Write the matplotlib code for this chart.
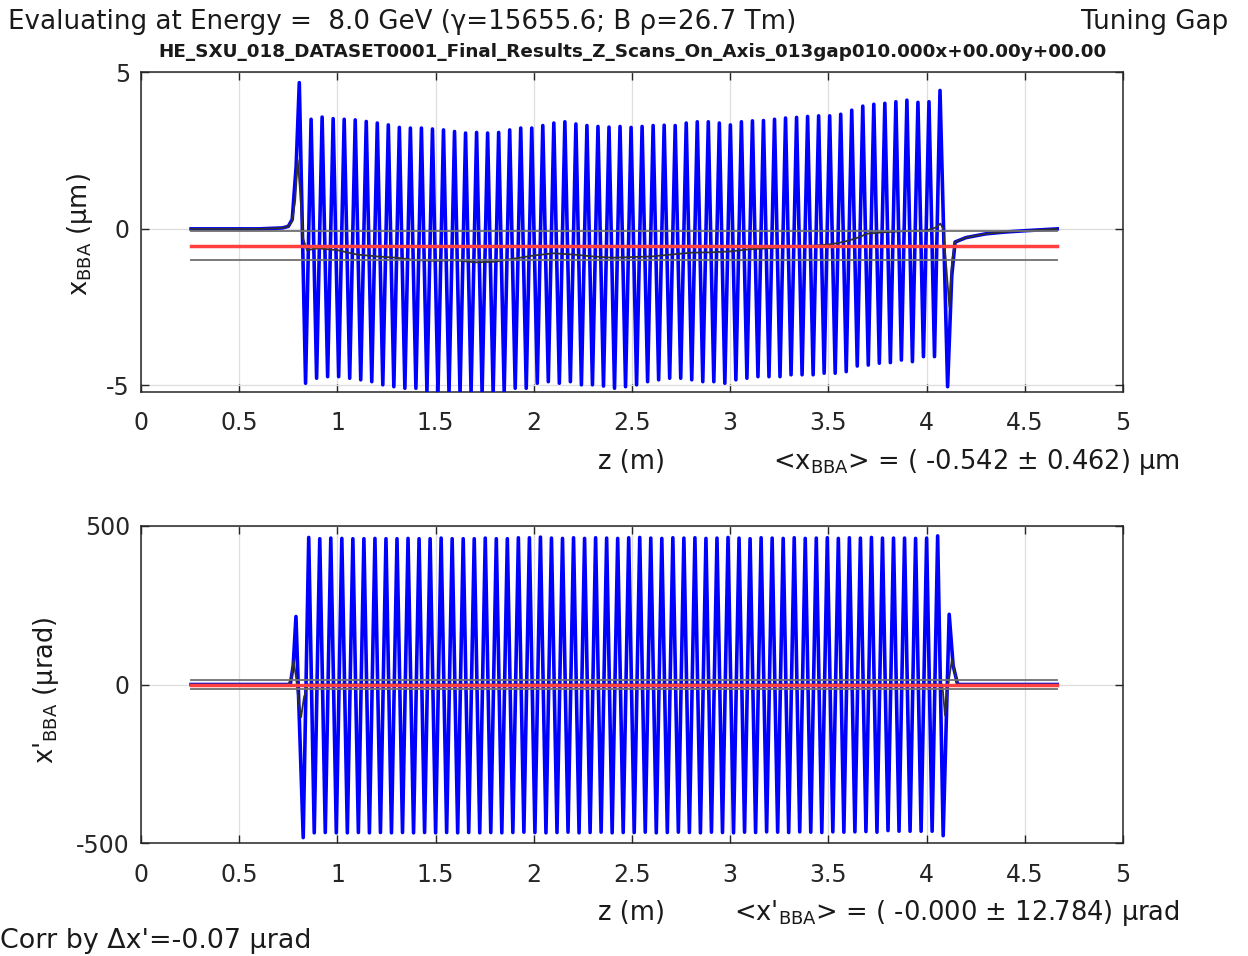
import matplotlib
matplotlib.use("Agg")
import matplotlib.pyplot as plt
import numpy as np

# ---- data ----
Z_RANGE = (0.255, 4.665)
PERIOD = 0.05618            # oscillation period seen along z (m)

# x_BBA (um): first regular crest and crest/trough values
X_PEAK0 = 0.866
x_peaks = [3.50, 3.57, 3.52, 3.50, 3.48, 3.43, 3.38, 3.32, 3.24, 3.22,
           3.22, 3.19, 3.16, 3.11, 3.06, 3.08, 3.06, 3.08, 3.16, 3.22,
           3.22, 3.30, 3.38, 3.42, 3.35, 3.30, 3.27, 3.25, 3.27, 3.24,
           3.27, 3.30, 3.31, 3.30, 3.38, 3.42, 3.42, 3.38, 3.32, 3.42,
           3.45, 3.46, 3.50, 3.54, 3.56, 3.59, 3.61, 3.61, 3.66, 3.79,
           3.92, 3.98, 4.01, 4.06, 4.11, 4.04, 4.06, 4.42]
x_troughs = [-4.93, -4.77, -4.72, -4.72, -4.77, -4.82, -4.88, -4.98, -5.04, -5.09,
             -5.09, -5.20, -5.25, -5.25, -5.25, -5.20, -5.25, -5.25, -5.20, -5.09,
             -5.09, -4.93, -4.88, -4.93, -4.88, -4.98, -4.98, -5.02, -5.09, -5.04,
             -4.98, -4.88, -4.82, -4.77, -4.77, -4.82, -4.88, -4.88, -4.93, -4.82,
             -4.77, -4.72, -4.72, -4.72, -4.66, -4.66, -4.66, -4.61, -4.61, -4.56,
             -4.38, -4.35, -4.29, -4.27, -4.19, -4.24, -4.08, -4.08]
x_lead_in_z = [0.255, 0.60, 0.72, 0.75, 0.77, 0.79, 0.806]
x_lead_in = [0.0, 0.0, 0.03, 0.08, 0.30, 2.0, 4.67]
x_lead_out_z = [4.107, 4.128, 4.145, 4.20, 4.30, 4.40, 4.50, 4.665]
x_lead_out = [-5.04, -1.5, -0.42, -0.28, -0.16, -0.10, -0.06, 0.0]

# averaged x trajectory (black)
xavg_z = [0.255, 0.60, 0.72, 0.75, 0.77, 0.785, 0.798, 0.81, 0.825, 0.845, 0.90,
          1.0, 1.1, 1.2, 1.3, 1.4, 1.5, 1.6, 1.7, 1.8, 1.9, 2.0, 2.1, 2.2, 2.3,
          2.4, 2.5, 2.6, 2.7, 2.8, 2.9, 3.0, 3.1, 3.2, 3.3, 3.4, 3.5, 3.55, 3.6,
          3.65, 3.7, 3.8, 3.9, 4.0, 4.05, 4.07, 4.085, 4.10, 4.116, 4.13, 4.145,
          4.2, 4.3, 4.4, 4.5, 4.665]
xavg = [0.0, 0.0, 0.03, 0.08, 0.25, 0.9, 2.2, 1.2, -0.3, -0.68, -0.62,
        -0.68, -0.82, -0.88, -0.92, -1.0, -1.02, -1.0, -1.07, -1.05, -0.95, -0.85, -0.78, -0.82, -0.88,
        -0.92, -0.90, -0.88, -0.82, -0.76, -0.75, -0.72, -0.65, -0.62, -0.57, -0.55, -0.50, -0.45, -0.38,
        -0.28, -0.15, -0.10, -0.07, -0.05, 0.05, 0.17, 0.0, -1.2, -2.5, -1.0, -0.42,
        -0.28, -0.16, -0.10, -0.06, 0.0]

# x'_BBA (urad)
XP_PEAK0 = 0.854
xp_peaks = [463, 459, 461, 460, 459, 459, 460, 459, 459, 460,
            459, 459, 461, 459, 459, 459, 461, 459, 459, 462,
            462, 464, 461, 460, 462, 460, 462, 461, 460, 462,
            463, 461, 460, 462, 461, 462, 460, 461, 463, 461,
            459, 462, 461, 460, 462, 460, 461, 462, 460, 462,
            461, 463, 461, 461, 461, 460, 461, 468]
xp_troughs = [-482, -467, -466, -467, -467, -466, -467, -466, -467, -466,
              -467, -466, -467, -466, -467, -466, -467, -466, -467, -466,
              -465, -466, -467, -466, -465, -467, -466, -465, -467, -466,
              -466, -465, -467, -466, -465, -466, -467, -465, -466, -467,
              -465, -466, -464, -465, -466, -464, -465, -466, -464, -465,
              -464, -463, -465, -460, -462, -462, -462, -462, -476]
xp_lead_in_z = [0.255, 0.76, 0.775, 0.789]
xp_lead_in = [0, 0, 60, 214]
xp_lead_out_z = [4.115, 4.135, 4.158, 4.665]
xp_lead_out = [221, 60, 0, 0]

xpavg_z = [0.255, 0.75, 0.765, 0.777, 0.79, 0.80, 0.815, 0.83, 0.85,
           4.08, 4.094, 4.11, 4.129, 4.158, 4.665]
xpavg = [0, 0, 20, 76, 20, -40, -103, -40, 0,
         0, -98, 0, 79, 0, 0]

X_MEAN, X_STD = -0.542, 0.462
XP_MEAN, XP_STD = -0.000, 12.784
CORR = -0.07


def crest_series(z_first, peaks, troughs):
    # troughs[k] sits half a period before peaks[k]
    z, v = [], []
    for k in range(max(len(peaks), len(troughs))):
        if k < len(troughs):
            z.append(z_first + (k - 0.5) * PERIOD)
            v.append(troughs[k])
        if k < len(peaks):
            z.append(z_first + k * PERIOD)
            v.append(peaks[k])
    return z, v


def style_axes(ax, ylim, yticks):
    ax.set_xlim(0, 5)
    ax.set_ylim(*ylim)
    ax.set_xticks(np.arange(0, 5.01, 0.5))
    ax.set_xticklabels(["0", "0.5", "1", "1.5", "2", "2.5", "3", "3.5", "4", "4.5", "5"])
    ax.set_yticks(yticks)
    ax.grid(True, color="#dedede", lw=0.9)
    ax.set_axisbelow(True)
    ax.tick_params(direction="in", top=True, right=True, length=6, width=1.0,
                   colors="#262626", labelsize=17)
    ax.tick_params(axis="x", pad=14)
    ax.tick_params(axis="y", pad=8)
    for sp in ax.spines.values():
        sp.set_color("#262626")
        sp.set_linewidth(1.1)


def draw(ax, lead_in_z, lead_in, crest_z, crest, lead_out_z, lead_out, avg_z, avg, mean, std):
    zb = list(lead_in_z) + list(crest_z) + list(lead_out_z)
    vb = list(lead_in) + list(crest) + list(lead_out)
    ax.plot(zb, vb, color=(0, 0, 1), lw=2.6, zorder=3, solid_joinstyle="round")
    ax.plot(avg_z, avg, color="#303030", lw=1.3, zorder=4)
    for lvl in (mean + std, mean - std):
        ax.plot(Z_RANGE, [lvl, lvl], color="#707070", lw=1.3, zorder=5)
    ax.plot(Z_RANGE, [mean, mean], color="#ff4040", lw=2.5, zorder=6)


plt.rcParams["font.family"] = ["DejaVu Sans"]
plt.rcParams["mathtext.fontset"] = "dejavusans"
plt.rcParams["axes.unicode_minus"] = False

W, H = 1248, 956
fig = plt.figure(figsize=(W / 100, H / 100), dpi=100)


def fx(px):
    return px / W


def fy(py):
    return 1 - py / H


ax1 = fig.add_axes([fx(141), fy(391.7), fx(1123 - 141), (391.7 - 72.3) / H])
ax2 = fig.add_axes([fx(141), fy(843.3), fx(1123 - 141), (843.3 - 525.7) / H])

cz, cv = crest_series(X_PEAK0, x_peaks, x_troughs)
draw(ax1, x_lead_in_z, x_lead_in, cz, cv, x_lead_out_z, x_lead_out, xavg_z, xavg, X_MEAN, X_STD)
style_axes(ax1, (-5.2, 5), [-5, 0, 5])

cz, cv = crest_series(XP_PEAK0, xp_peaks, xp_troughs)
draw(ax2, xp_lead_in_z, xp_lead_in, cz, cv, xp_lead_out_z, xp_lead_out, xpavg_z, xpavg, XP_MEAN, XP_STD)
style_axes(ax2, (-500, 500), [-500, 0, 500])

fs = 18.5
tc = "#1a1a1a"
mu = "\u00b5"
fig.text(fx(8), fy(29), "Evaluating at Energy =  8.0 GeV (\u03b3=15655.6; B \u03c1=26.7 Tm)",
         ha="left", va="baseline", fontsize=18.85, color=tc)
fig.text(fx(1228), fy(29), "Tuning Gap", ha="right", va="baseline", fontsize=18.85, color=tc)
fig.text(fx(632), fy(57), "HE_SXU_018_DATASET0001_Final_Results_Z_Scans_On_Axis_013gap010.000x+00.00y+00.00",
         ha="center", va="baseline", fontsize=13.2, fontweight="bold", color=tc)

fig.text(fx(631), fy(469), "z (m)", ha="center", va="baseline", fontsize=fs, color=tc)
fig.text(fx(1180), fy(469), "<x$_\\mathrm{BBA}$> = ( %.3f \u00b1 %.3f) %sm" % (X_MEAN, X_STD, mu),
         ha="right", va="baseline", fontsize=fs, color=tc)
fig.text(fx(631), fy(920), "z (m)", ha="center", va="baseline", fontsize=fs, color=tc)
fig.text(fx(1180), fy(920), "<x'$_\\mathrm{BBA}$> = ( -%.3f \u00b1 %.3f) %srad" % (abs(XP_MEAN), XP_STD, mu),
         ha="right", va="baseline", fontsize=fs, color=tc)
fig.text(fx(0), fy(948), "Corr by \u0394x'=%.2f %srad" % (CORR, mu), ha="left", va="baseline",
         fontsize=19.4, color=tc)

fig.text(fx(80), fy(235), "x$_\\mathrm{BBA}$ (%sm)" % mu, rotation=90, ha="center", va="center",
         fontsize=fs, color=tc)
fig.text(fx(46), fy(690), "x'$_\\mathrm{BBA}$ (%srad)" % mu, rotation=90, ha="center", va="center",
         fontsize=fs, color=tc)

fig.savefig("out.png", dpi=100, facecolor="white")
